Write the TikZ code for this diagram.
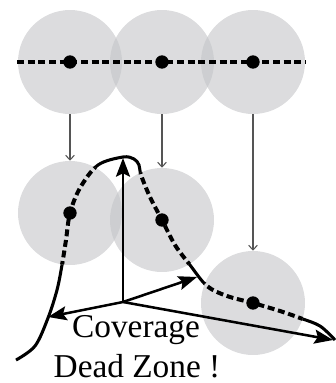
\documentclass[tikz,border=0pt]{standalone}
\usepackage{fontspec}
\setmainfont{Liberation Serif}
\usetikzlibrary{arrows.meta}
\definecolor{zonegray}{RGB}{196,197,200}
\definecolor{droparrow}{RGB}{85,85,85}
\begin{document}
\begin{tikzpicture}[x=0.75pt,y=-0.75pt,
  zone/.style={circle,fill=zonegray,fill opacity=0.6,minimum size=78pt,inner sep=0pt},
  sensor/.style={circle,fill=black,minimum size=10pt,inner sep=0pt},
  track/.style={line width=3pt,dash pattern=on 5.2pt off 2.8pt},
  boundary/.style={line width=2.3pt},
  drop/.style={droparrow,line width=0.8pt,-{Straight Barb[length=3.5pt,width=6.5pt]}},
  axis/.style={line width=1.9pt,-{Stealth[length=14pt,width=10.5pt,inset=2.5pt]}},
  label/.style={font=\fontsize{25}{30}\selectfont,inner sep=0pt,anchor=base}]
\useasboundingbox (0,0) rectangle (336,383);

% coverage zones along the straight track
\node[zone] (t1) at (70,62) {};
\node[zone] (t2) at (162,62) {};
\node[zone] (t3) at (253,62) {};
% coverage zones after deployment
\node[zone] (m1) at (70,213) {};
\node[zone] (m2) at (162,220) {};
\node[zone] (m3) at (253,303) {};

% straight track with sensors
\coordinate (tl) at (17,62);
\coordinate (tr) at (306,62);
\draw[track] (tl) -- (tr);
\node[sensor] (s1) at (t1) {};
\node[sensor] (s2) at (t2) {};
\node[sensor] (s3) at (t3) {};

% displacement arrows
\draw[drop] (t1.south) -- (m1.north);
\draw[drop] (t2.south) -- (m2.north);
\draw[drop] (t3.south) -- (m3.north);

% sensors on the curved track
\node[sensor] (c1) at (m1) {};
\node[sensor] (c2) at (m2) {};
\node[sensor] (c3) at (m3) {};

\def\curvedtrack{plot[smooth,tension=0.55] coordinates {
  (16,360) (35,346) (48,318) (57,290) (62,265) (66,240) (c1) (80,188)
  (98,165) (123,157) (134,159) (139,165) (141,175) (150,197) (c2)
  (175,245) (190,265) (207,286) (227,296) (c3) (280,311) (300,318)
  (320,326) (335,340)}}

% dashed inside the zones
\begin{scope}
  \clip (m1) circle[radius=52] (m2) circle[radius=52] (m3) circle[radius=52];
  \draw[track] \curvedtrack;
\end{scope}
% solid outside the zones
\begin{scope}[even odd rule]
  \clip (-50,-50) rectangle (400,450)
    (m1) circle[radius=52] (m2) circle[radius=52] (m3) circle[radius=52];
  \draw[boundary] \curvedtrack;
\end{scope}

% coverage axes
\coordinate (o) at (123,302);
\coordinate (up) at (123,158);
\coordinate (fw) at (197,277);
\coordinate (lf) at (48,317);
\coordinate (rt) at (333,340);
\draw[axis] (o) -- (up);
\draw[axis] (o) -- (fw);
\draw[axis] (o) -- (lf);
\draw[axis] (o) -- (rt);

\node[label] (cov) at (136,337) {Coverage};
\node[label] (dz) at (137,377) {Dead Zone !};
\end{tikzpicture}
\end{document}
